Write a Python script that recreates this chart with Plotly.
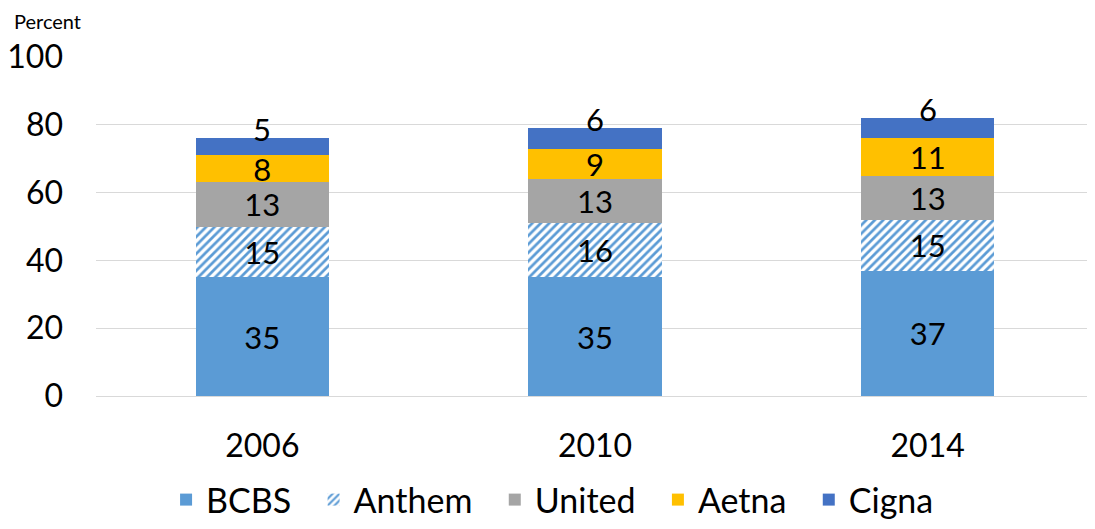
import plotly.graph_objects as go

years = ["2006", "2010", "2014"]
bcbs = [35, 35, 37]
anthem = [15, 16, 15]
united = [13, 13, 13]
aetna = [8, 9, 11]
cigna = [5, 6, 6]

series = [
    ("BCBS", bcbs, "#5B9BD5", None),
    ("Anthem", anthem, "#FFFFFF", "/"),
    ("United", united, "#A5A5A5", None),
    ("Aetna", aetna, "#FFC000", None),
    ("Cigna", cigna, "#4472C4", None),
]

FONT = "Lato, Carlito, Calibri, sans-serif"
NB = "\u00a0\u00a0"

fig = go.Figure()
for name, vals, color, pat in series:
    marker = dict(color=color, line=dict(width=0))
    if pat:
        marker["pattern"] = dict(shape=pat, fgcolor="#5B9BD5", bgcolor="#FFFFFF",
                                 size=6, solidity=0.45, fillmode="replace")
    show_inside = name != "Cigna"
    fig.add_trace(go.Bar(
        x=years, y=vals, name=name + NB, marker=marker,
        text=[str(v) for v in vals] if show_inside else None,
        textposition="inside" if show_inside else "none",
        insidetextanchor="middle",
        constraintext="none",
        textangle=0,
        textfont=dict(family=FONT, size=31, color="black"),
        hoverinfo="x+y",
    ))

totals = [a + b + c + d + e for a, b, c, d, e in zip(bcbs, anthem, united, aetna, cigna)]
for i, (tot, v) in enumerate(zip(totals, cigna)):
    fig.add_annotation(x=i, y=tot, text=str(v), showarrow=False,
                       yanchor="middle", yshift=9,
                       font=dict(family=FONT, size=31, color="black"))

fig.add_annotation(xref="paper", yref="paper", x=-84/998, y=1 + 36/340,
                   xanchor="left", yanchor="middle", text="Percent", showarrow=False,
                   font=dict(family=FONT, size=20, color="black"))

fig.update_layout(
    barmode="stack",
    bargap=0.6,
    width=1087, height=521,
    margin=dict(l=88, r=1, t=49, b=132),
    paper_bgcolor="white", plot_bgcolor="white",
    font=dict(family=FONT, size=31, color="black"),
    showlegend=True,
    legend=dict(orientation="h", x=0.466, xanchor="center", y=-0.303, yanchor="middle",
                font=dict(family=FONT, size=34, color="black"),
                traceorder="normal", itemwidth=30),
    xaxis=dict(type="category", range=[-0.5, 2.5], showline=False, ticks="", automargin=False,
               ticklabelstandoff=28,
               tickfont=dict(family=FONT, size=32, color="black")),
    yaxis=dict(range=[0, 100], dtick=20, showgrid=True, gridcolor="#D9D9D9", gridwidth=1,
               zeroline=True, zerolinecolor="#D9D9D9", zerolinewidth=1,
               ticks="", ticklabelstandoff=32, automargin=False,
               tickfont=dict(family=FONT, size=32, color="black")),
)

fig.write_html("out.html")
